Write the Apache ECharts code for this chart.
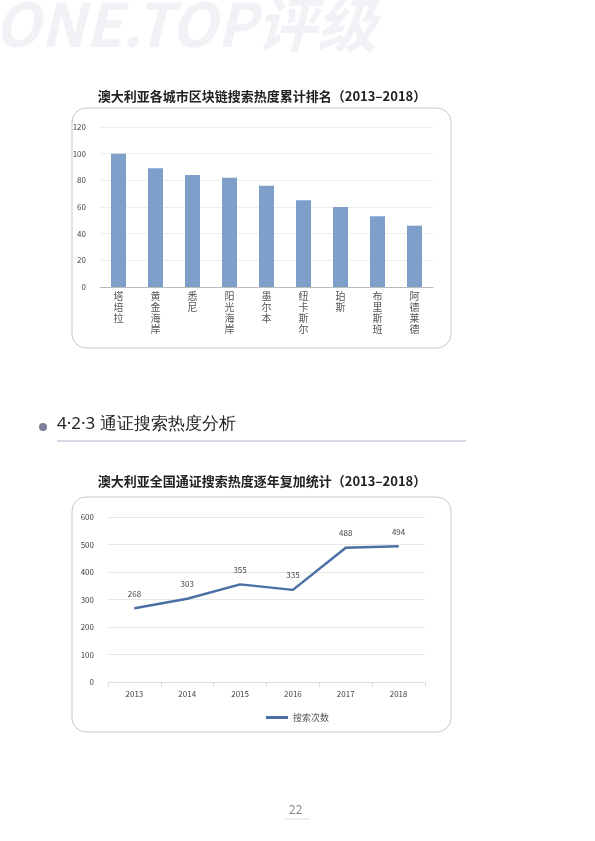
<!DOCTYPE html>
<html><head><meta charset="utf-8">
<script src="https://cdn.jsdelivr.net/npm/echarts@6/dist/echarts.min.js"></script>
<style>html,body{margin:0;padding:0;background:#fff}#c{width:595px;height:841px}</style>
</head><body><div id="c"></div>
<script>
const cities = ['塔培拉','黄金海岸','悉尼','阳光海岸','墨尔本','纽卡斯尔','珀斯','布里斯班','阿德莱德'];
const cityValues = [100, 89, 84, 82, 76, 65, 60, 53, 46];
const years = ['2013','2014','2015','2016','2017','2018'];
const searchCounts = [268, 303, 355, 335, 488, 494];
const F = '"Noto Sans CJK SC","Noto Sans",sans-serif';
const chart = echarts.init(document.getElementById('c'), null, {renderer:'canvas'});
chart.setOption({
  animation:false,
  title:[
    {text:'澳大利亚各城市区块链搜索热度累计排名（2013–2018）',left:257,top:85,textAlign:'center',textStyle:{fontFamily:F,fontSize:13,fontWeight:'bold',color:'#222'}},
    {text:'澳大利亚全国通证搜索热度逐年复加统计（2013–2018）',left:257,top:470,textAlign:'center',textStyle:{fontFamily:F,fontSize:13,fontWeight:'bold',color:'#222'}}
  ],
  graphic:[
    {type:'text',left:-6,top:-6,z:-10,style:{text:'ONE.TOP评级',font:'italic bold 60px '+F,fill:'#f1f2f5'}},
    {type:'rect',shape:{x:72,y:108,width:379,height:240,r:14},style:{fill:'none',stroke:'#c8c8c8',lineWidth:1}},
    {type:'rect',shape:{x:72,y:497,width:379,height:235,r:14},style:{fill:'none',stroke:'#c8c8c8',lineWidth:1}},
    {type:'circle',shape:{cx:43,cy:427,r:4},style:{fill:'#7d7f9c'}},
    {type:'text',left:57,top:416,style:{text:'4·2·3 通证搜索热度分析',font:'17px "Noto Sans",sans-serif',fill:'#222'}},
    {type:'line',shape:{x1:57,y1:441,x2:466,y2:441},style:{stroke:'#a8b4c4',lineWidth:1}},
    {type:'text',left:289,top:803,style:{text:'22',font:'12px '+F,fill:'#888'}},
    {type:'line',shape:{x1:285,y1:819,x2:310,y2:819},style:{stroke:'#dde',lineWidth:1}}
  ],
  grid:[
    {left:100,right:595-433,top:127,height:160},
    {left:108,right:595-425,top:517,height:165}
  ],
  legend:{top:708,left:'center',itemWidth:22,itemHeight:3,icon:'rect',
    textStyle:{fontFamily:F,fontSize:9,color:'#555'},data:['搜索次数']},
  xAxis:[
    {type:'category',gridIndex:0,data:cities.map(s=>s.split('').join('\n')),
     axisLine:{lineStyle:{color:'#bbb'}},axisTick:{show:false},
     axisLabel:{fontFamily:F,fontSize:10,color:'#555',lineHeight:11,interval:0,margin:4,verticalAlign:'top'}},
    {type:'category',gridIndex:1,data:years,boundaryGap:true,
     axisLine:{lineStyle:{color:'#ddd'}},axisTick:{show:true,lineStyle:{color:'#ddd'}},
     axisLabel:{fontFamily:F,fontSize:8,color:'#444',margin:8}}
  ],
  yAxis:[
    {type:'value',gridIndex:0,min:0,max:120,interval:20,
     axisLabel:{fontFamily:F,fontSize:8,color:'#444',margin:14},splitLine:{lineStyle:{color:'#eee'}}},
    {type:'value',gridIndex:1,min:0,max:600,interval:100,
     axisLabel:{fontFamily:F,fontSize:8,color:'#444',margin:14},splitLine:{lineStyle:{color:'#e8e8e8'}}}
  ],
  series:[
    {type:'bar',xAxisIndex:0,yAxisIndex:0,data:cityValues,barWidth:15,itemStyle:{color:'#7f9fcb'}},
    {type:'line',name:'搜索次数',xAxisIndex:1,yAxisIndex:1,data:searchCounts,symbol:'circle',symbolSize:1,showSymbol:true,
     lineStyle:{color:'#4a6fa5',width:2.5},itemStyle:{color:'#4a6fa5'},
     label:{show:true,position:'top',distance:10,fontFamily:F,fontSize:8,color:'#444'}}
  ]
});
</script></body></html>
